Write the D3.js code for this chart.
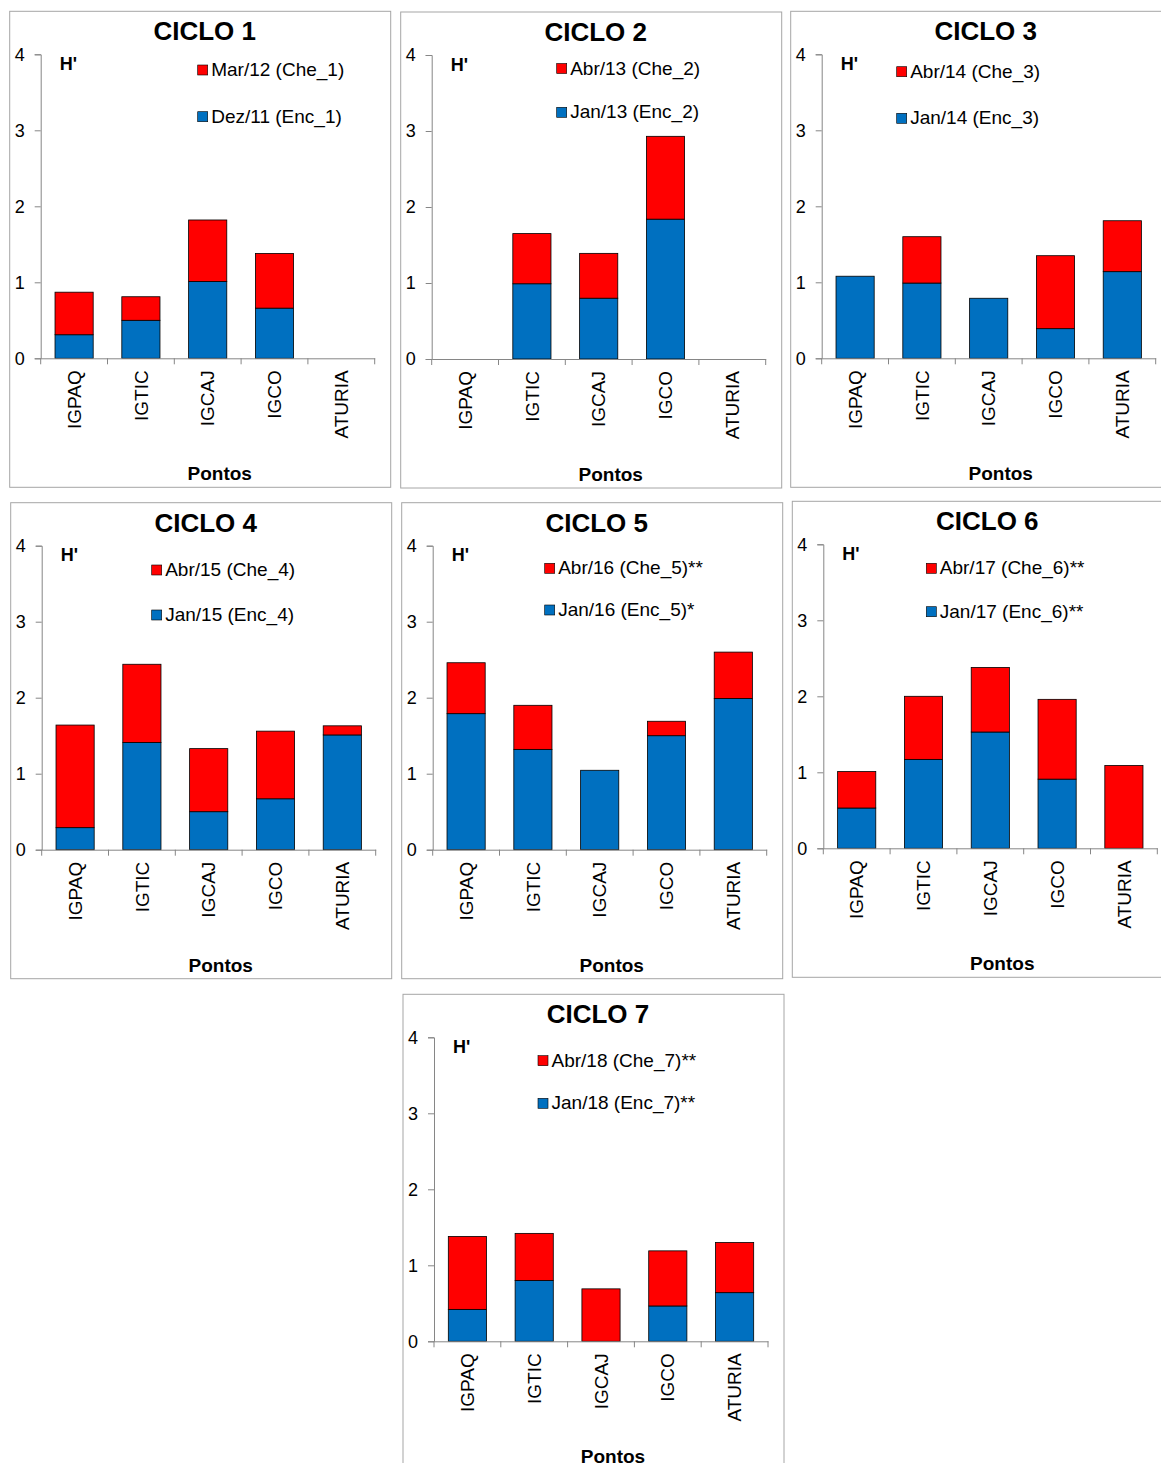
<!DOCTYPE html>
<html><head><meta charset="utf-8">
<script src="https://cdn.jsdelivr.net/npm/d3@7"></script>
<style>body{margin:0;background:#fff;} svg{display:block;font-family:"Liberation Sans",Arial,sans-serif;}</style>
</head><body>
<svg id="c" width="1161" height="1463"></svg>
<script>
// ---------- DATA ----------
const categories = ["IGPAQ", "IGTIC", "IGCAJ", "IGCO", "ATURIA"];
const yTicks = [0, 1, 2, 3, 4];
const titles = ["CICLO 1", "CICLO 2", "CICLO 3", "CICLO 4", "CICLO 5", "CICLO 6", "CICLO 7"];
const cheLabels = ["Mar/12 (Che_1)", "Abr/13 (Che_2)", "Abr/14 (Che_3)", "Abr/15 (Che_4)", "Abr/16 (Che_5)**", "Abr/17 (Che_6)**", "Abr/18 (Che_7)**"];
const encLabels = ["Dez/11 (Enc_1)", "Jan/13 (Enc_2)", "Jan/14 (Enc_3)", "Jan/15 (Enc_4)", "Jan/16 (Enc_5)*", "Jan/17 (Enc_6)**", "Jan/18 (Enc_7)**"];
const yLabel = "H'";
const xLabel = "Pontos";

// Enchente (blue, bottom) and Cheia (red, stacked on top) H' values
const enc1 = [0.31, 0.50, 1.01, 0.66, 0];
const che1 = [0.56, 0.31, 0.81, 0.72, 0];
const enc2 = [0, 0.99, 0.80, 1.84, 0];
const che2 = [0, 0.66, 0.59, 1.09, 0];
const enc3 = [1.08, 0.99, 0.79, 0.39, 1.14];
const che3 = [0, 0.61, 0, 0.96, 0.67];
const enc4 = [0.29, 1.41, 0.50, 0.67, 1.51];
const che4 = [1.35, 1.03, 0.83, 0.89, 0.12];
const enc5 = [1.79, 1.32, 1.045, 1.50, 1.99];
const che5 = [0.67, 0.58, 0, 0.19, 0.61];
const enc6 = [0.53, 1.17, 1.53, 0.91, 0];
const che6 = [0.48, 0.83, 0.85, 1.05, 1.09];
const enc7 = [0.42, 0.80, 0, 0.465, 0.64];
const che7 = [0.96, 0.62, 0.69, 0.725, 0.66];

const encSeries = [enc1, enc2, enc3, enc4, enc5, enc6, enc7];
const cheSeries = [che1, che2, che3, che4, che5, che6, che7];

// ---------- LAYOUT ----------
// ax, ay4: y-axis x position and y of value 4; lx: legend x offset; ly: legend row offsets
const layout = [
  {ax: 40.7, ay4: 54.3, lx: 157, ly: [10.7, 57.4]},
  {ax: 431.7, ay4: 55, lx: 125, ly: [8.5, 52.3]},
  {ax: 821.7, ay4: 54.3, lx: 75, ly: [12.4, 59]},
  {ax: 41.7, ay4: 545.7, lx: 110, ly: [19.3, 64.3]},
  {ax: 432.7, ay4: 545.7, lx: 112, ly: [17.6, 59.3]},
  {ax: 823.3, ay4: 544.3, lx: 103, ly: [19, 62.4]},
  {ax: 434, ay4: 1037.3, lx: 104, ly: [18.4, 61]}
];
const BLUE = "#0070C0", RED = "#FF0000", AXIS = "#868686", FRAME = "#A6A6A6";
const plotW = 334, plotH = 304;

const svg = d3.select("#c");

layout.forEach((L, i) => {
  const g = svg.append("g");
  const fx = L.ax - 31, fy = L.ay4 - 43;
  g.append("rect").attr("x", fx).attr("y", fy).attr("width", 381).attr("height", 476)
    .attr("fill", "#fff").attr("stroke", FRAME).attr("stroke-width", 1);

  const pad = 0.75 / 1.75;
  const x = d3.scaleBand().domain(categories).range([L.ax, L.ax + plotW])
    .paddingInner(pad).paddingOuter(pad / 2);
  const y = d3.scaleLinear().domain([0, 4]).range([L.ay4 + plotH, L.ay4]);

  // Title
  g.append("text").attr("x", L.ax + 164).attr("y", L.ay4 - 14).attr("text-anchor", "middle")
    .attr("font-size", 26).attr("font-weight", "bold").text(titles[i]);

  // Y axis
  const ya = g.append("g").attr("transform", `translate(${L.ax},0)`)
    .call(d3.axisLeft(y).tickValues(yTicks).tickSize(6).tickPadding(10).tickFormat(d3.format("d")));
  ya.selectAll("path, line").attr("stroke", AXIS);
  ya.selectAll("text").attr("font-size", 18).attr("fill", "#000").attr("font-family", null);

  // Bars
  const enc = encSeries[i], che = cheSeries[i];
  categories.forEach((c, k) => {
    if (enc[k] > 0) {
      g.append("rect").attr("x", x(c)).attr("width", x.bandwidth())
        .attr("y", y(enc[k])).attr("height", y(0) - y(enc[k]))
        .attr("fill", BLUE).attr("stroke", "#000").attr("stroke-width", 0.8);
    }
    if (che[k] > 0) {
      g.append("rect").attr("x", x(c)).attr("width", x.bandwidth())
        .attr("y", y(enc[k] + che[k])).attr("height", y(enc[k]) - y(enc[k] + che[k]))
        .attr("fill", RED).attr("stroke", "#000").attr("stroke-width", 0.8);
    }
  });

  // X axis
  const xa = g.append("g").attr("transform", `translate(0,${y(0)})`)
    .call(d3.axisBottom(x).tickSize(0).tickPadding(0));
  xa.select("path").attr("stroke", AXIS);
  xa.selectAll("text").attr("font-size", 19).attr("fill", "#000").attr("font-family", null)
    .attr("text-anchor", "end").attr("transform", "rotate(-90)")
    .attr("x", -12).attr("y", 0).attr("dy", "0.35em");
  // category boundary ticks
  const edges = d3.range(categories.length + 1).map(k => L.ax + k * x.step());
  g.selectAll(null).data(edges).enter().append("line")
    .attr("x1", d => d).attr("x2", d => d).attr("y1", y(0)).attr("y2", y(0) + 6)
    .attr("stroke", AXIS);

  // H' label
  g.append("text").attr("x", L.ax + 19).attr("y", L.ay4 + 15.5)
    .attr("font-size", 18).attr("font-weight", "bold").text(yLabel);

  // Pontos
  g.append("text").attr("x", L.ax + 179).attr("y", y(0) + 122).attr("text-anchor", "middle")
    .attr("font-size", 19).attr("font-weight", "bold").text(xLabel);

  // Legend
  const items = [[RED, cheLabels[i]], [BLUE, encLabels[i]]];
  items.forEach(([col, lab], r) => {
    const sy = L.ay4 + L.ly[r];
    g.append("rect").attr("x", L.ax + L.lx).attr("y", sy).attr("width", 10).attr("height", 10)
      .attr("fill", col).attr("stroke", "#000").attr("stroke-width", 0.6);
    g.append("text").attr("x", L.ax + L.lx + 13.5).attr("y", sy + 11)
      .attr("font-size", 19).text(lab);
  });
});
</script>
</body></html>
